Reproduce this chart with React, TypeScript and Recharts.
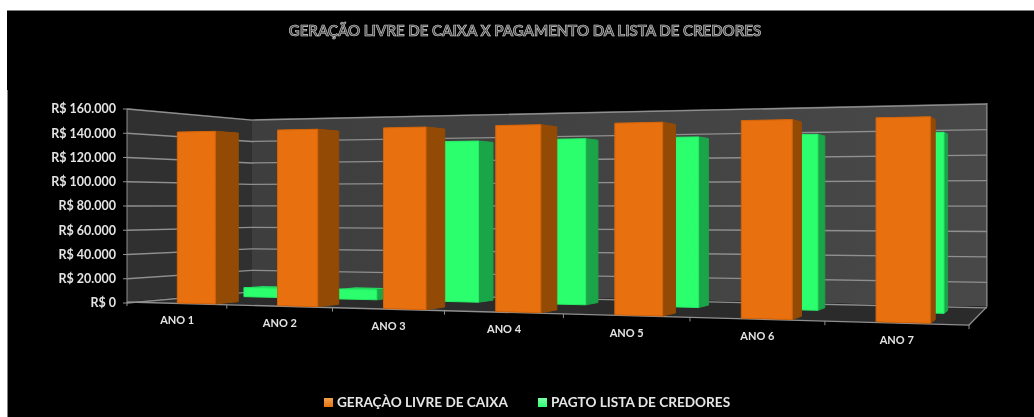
import { Bar, BarChart, CartesianGrid, Legend, XAxis, YAxis } from "recharts";

const categories = ["ANO 1", "ANO 2", "ANO 3", "ANO 4", "ANO 5", "ANO 6", "ANO 7"];
const geracaoLivre = [141000, 141000, 141000, 141000, 141000, 141000, 141000];
const pagtoCredores = [8000, 8500, 134000, 134500, 134500, 135000, 135000];
const yTicks = [0, 20000, 40000, 60000, 80000, 100000, 120000, 140000, 160000];

const data = categories.map((name, i) => ({
  name,
  geracao: geracaoLivre[i],
  pagto: pagtoCredores[i],
}));

const PLOT_LEFT = 127;
const PLOT_RIGHT = 969;
const PLOT_TOP = 108;
const PLOT_BOTTOM = 302;
const PLOT_WIDTH = PLOT_RIGHT - PLOT_LEFT;
const HORIZON = 205.5;
const FONT = "Lato, 'Open Sans', sans-serif";

// perspective of the old 3D excel chart: u runs along the floor, d goes into the wall
function project(u: number, d: number, y: number) {
  const w = 1 - 0.193 * u + 0.129 * d + 0.016 * u * d;
  return {
    x: (PLOT_LEFT + 655 * u + 157.5 * d) / w,
    y: HORIZON + (y - HORIZON) / w,
  };
}

const toU = (x: number) => (x - PLOT_LEFT) / PLOT_WIDTH;
const pts = (list: { x: number; y: number }[]) => list.map((p) => `${p.x},${p.y}`).join(" ");

function make3dBar(front: string, side: string, top: string, edge: string, d0: number, d1: number) {
  return function Bar3d(props: any) {
    const { x, y, width, height } = props;
    const nudge = 10 - 7 * toU(x);
    const u0 = toU(x + nudge);
    const u1 = toU(x + width + nudge);
    const yb = y + height;
    const a = project(u0, d0, y);
    const b = project(u1, d0, y);
    const c = project(u1, d0, yb);
    const e = project(u0, d0, yb);
    const bt = project(u1, d1, y);
    const bb = project(u1, d1, yb);
    const lt = project(u0, d1, y);
    return (
      <g>
        <polygon points={pts([a, b, bt, lt])} fill={top} />
        <polygon points={pts([b, bt, bb, c])} fill={side} stroke={side} strokeLinejoin="round" />
        <polygon points={pts([a, b, c, e])} fill={front} stroke={edge} strokeLinejoin="round" />
      </g>
    );
  };
}

const OrangeBar = make3dBar("#e8700e", "#934a05", "#c9630c", "#d4640a", 0.09, 0.27);
const GreenBar = make3dBar("#2bff6e", "#1aa548", "#22d85e", "#26ee66", 0.62, 0.78);

function GridLine(props: any) {
  const { y1 } = props;
  const a = project(0, 0, y1);
  const b = project(0, 1, y1);
  const c = project(1, 1, y1);
  return <polyline points={pts([a, b, c])} fill="none" stroke="#8f8f8f" strokeWidth={1.3} />;
}

function FloorTick(props: any) {
  const { x, payload } = props;
  const u = toU(x);
  const label = project(u, 0, PLOT_BOTTOM);
  const band = 1 / categories.length;
  const right = project(u + band / 2, 0, PLOT_BOTTOM);
  const isFirst = payload.index === 0;
  const left = project(u - band / 2, 0, PLOT_BOTTOM);
  return (
    <g>
      {isFirst && <line x1={left.x} y1={left.y} x2={left.x} y2={left.y + 4} stroke="#8f8f8f" />}
      <line x1={right.x} y1={right.y} x2={right.x} y2={right.y + 4} stroke="#8f8f8f" />
      <text x={label.x + 1} y={label.y + 21} textAnchor="middle" fill="#e4e4e4" fontSize={11} fontWeight={700} fontFamily={FONT}>
        {payload.value}
      </text>
    </g>
  );
}

function LegendBox() {
  const items = [
    { label: "GERAÇÀO LIVRE DE CAIXA", color: "#e8700e", light: "#f2a24e" },
    { label: "PAGTO LISTA DE CREDORES", color: "#2bff6e", light: "#7dffa8" },
  ];
  return (
    <div style={{ display: "flex", gap: 30, fontFamily: FONT, fontSize: 13.6, fontWeight: 700, color: "#e6e6e6" }}>
      {items.map((item) => (
        <span key={item.label} style={{ display: "flex", alignItems: "center", gap: 4 }}>
          <span
            style={{
              width: 9,
              height: 9,
              background: `linear-gradient(${item.light}, ${item.color})`,
              display: "inline-block",
            }}
          />
          {item.label}
        </span>
      ))}
    </div>
  );
}

function Walls() {
  const leftWall = [
    project(0, 0, PLOT_TOP),
    project(0, 1, PLOT_TOP),
    project(0, 1, PLOT_BOTTOM),
    project(0, 0, PLOT_BOTTOM),
  ];
  const backWall = [
    project(0, 1, PLOT_TOP),
    project(1, 1, PLOT_TOP),
    project(1, 1, PLOT_BOTTOM),
    project(0, 1, PLOT_BOTTOM),
  ];
  const floor = [
    project(0, 0, PLOT_BOTTOM),
    project(1, 0, PLOT_BOTTOM),
    project(1, 1, PLOT_BOTTOM),
    project(0, 1, PLOT_BOTTOM),
  ];
  return (
    <svg width={1034} height={417} style={{ position: "absolute", left: 0, top: 0 }}>
      <defs>
        <linearGradient id="backWallFill" x1="0" y1="0" x2="1" y2="0">
          <stop offset="0%" stopColor="#3e3e3e" />
          <stop offset="100%" stopColor="#484848" />
        </linearGradient>
      </defs>
      <polygon points={pts(leftWall)} fill="#303030" />
      <polygon points={pts(backWall)} fill="url(#backWallFill)" />
      <polygon points={pts(floor)} fill="#2b2b2b" />
      <polyline points={pts([floor[0], floor[1], floor[2]])} fill="none" stroke="#8f8f8f" strokeWidth={1.3} />
      <line x1={floor[2].x} y1={floor[2].y} x2={backWall[1].x} y2={backWall[1].y} stroke="#8f8f8f" strokeWidth={1.3} />
    </svg>
  );
}

export default function App() {
  return (
    <div style={{ position: "absolute", left: 0, top: 0, width: 1034, height: 417, background: "#fff", overflow: "hidden" }}>
      <div style={{ position: "absolute", left: 7, top: 10, width: 1027, height: 407, background: "#000", borderTop: "1px solid #808080", boxSizing: "border-box" }} />
      <div style={{ position: "absolute", left: 7, top: 90, width: 1, height: 327, background: "#808080" }} />
      <Walls />
      <div
        style={{
          position: "absolute",
          top: 21,
          left: 0,
          width: 1050,
          textAlign: "center",
          fontFamily: FONT,
          fontWeight: 700,
          fontSize: 15,
          color: "#4a4a4a",
          WebkitTextStroke: "0.6px #d8d8d8",
          opacity: 0.99,
          willChange: "opacity",
        }}
      >
        GERAÇÃO LIVRE DE CAIXA X PAGAMENTO DA LISTA DE CREDORES
      </div>
      <div style={{ position: "absolute", left: 0, top: 0 }}>
        <BarChart
          width={1034}
          height={417}
          data={data}
          barSize={46}
          barGap={-46}
          barCategoryGap={0}
          margin={{ top: PLOT_TOP + 1, right: 1034 - PLOT_RIGHT, bottom: 63, left: 0 }}
        >
          <CartesianGrid vertical={false} horizontal={GridLine} />
          <XAxis
            dataKey="name"
            axisLine={false}
            tickLine={false}
            height={35}
            interval={0}
            tick={FloorTick}
          />
          <YAxis
            width={PLOT_LEFT}
            domain={[0, 160000]}
            ticks={yTicks}
            interval={0}
            stroke="#8f8f8f"
            tickSize={4}
            tickMargin={7}
            tick={{ fill: "#e4e4e4", fontSize: 12.5, fontWeight: 700, fontFamily: FONT }}
            tickFormatter={(v: number) => `R$ ${v === 0 ? "0" : v.toLocaleString("pt-BR")}`}
          />
          <Bar dataKey="pagto" name="PAGTO LISTA DE CREDORES" fill="#2bff6e" shape={GreenBar} isAnimationActive={false} />
          <Bar dataKey="geracao" name="GERAÇÃO LIVRE DE CAIXA" fill="#e8700e" shape={OrangeBar} isAnimationActive={false} />
          <Legend content={LegendBox} wrapperStyle={{ position: "absolute", left: 324, top: 394, width: 500 }} />
        </BarChart>
      </div>
    </div>
  );
}
